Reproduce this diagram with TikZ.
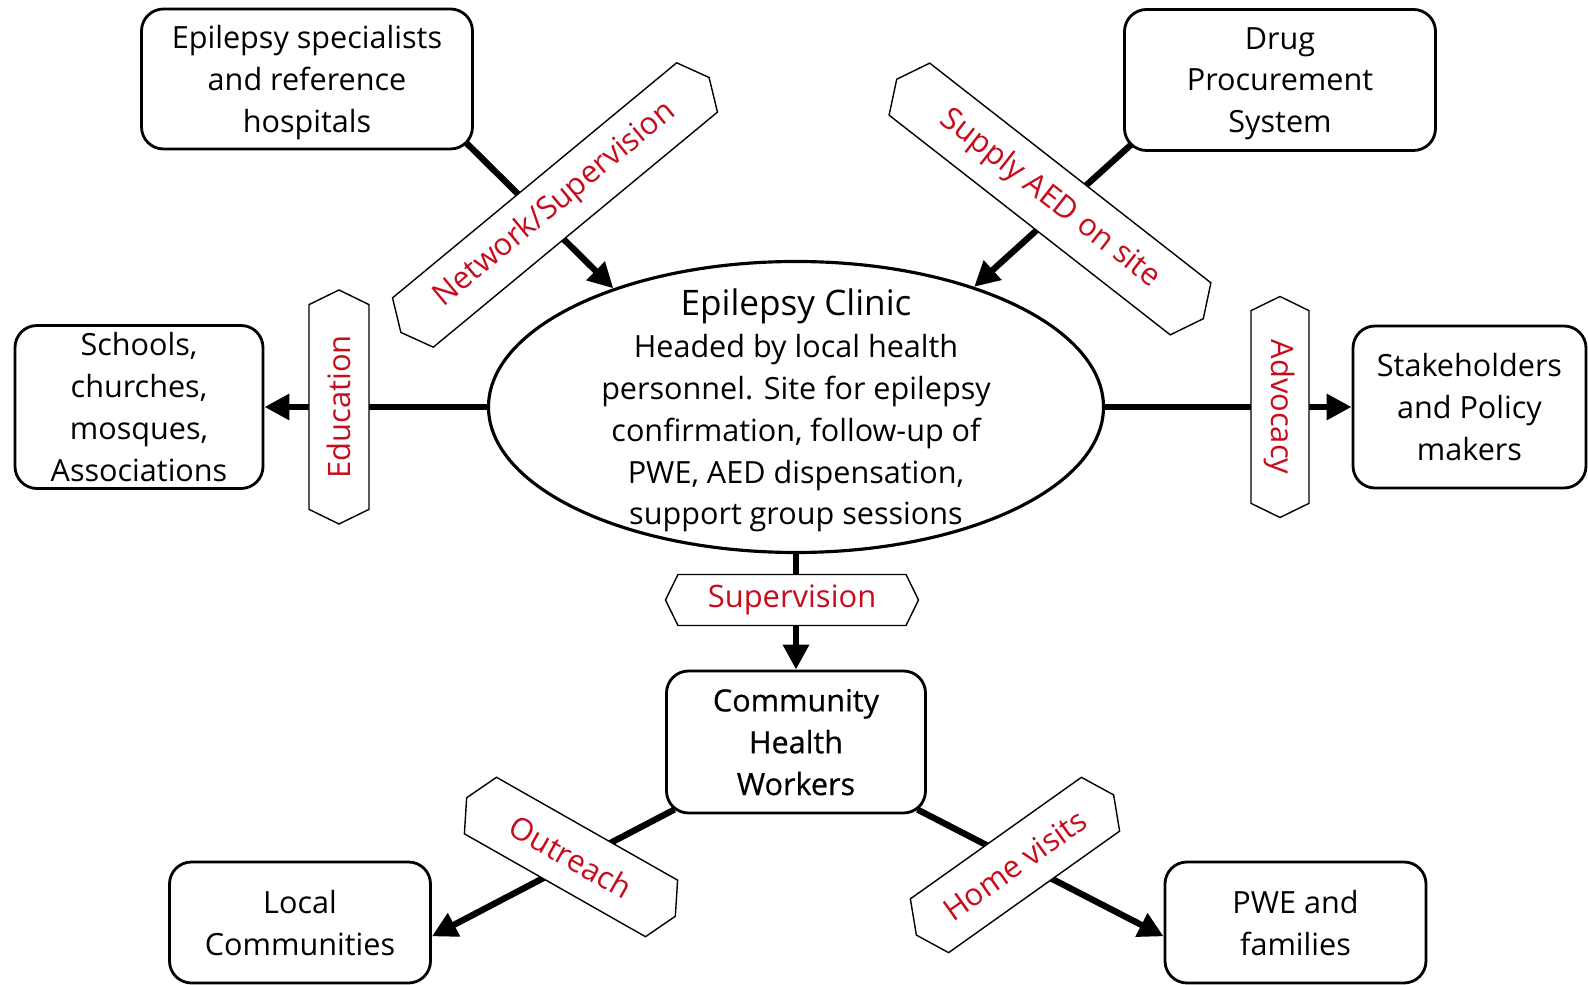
\documentclass[tikz,border=0pt]{standalone}
\usepackage{fontspec}
\setmainfont{Open Sans}
\newfontfamily\chwfont{Open Sans}[FakeBold=0.6]
\usetikzlibrary{shapes, arrows.meta, backgrounds}
\definecolor{tagred}{RGB}{200,12,28}

\begin{document}
\begin{tikzpicture}[node distance=2.2cm]
        \tikzstyle{hub} = [ellipse, minimum width = 6.15cm, minimum height = 2.91cm, draw=black, line width=0.9pt, fill=white]
        \tikzstyle{box} = [rectangle, rounded corners=0.22cm, inner sep=0pt, text depth=0pt, text centered, align=center, draw=black, line width=0.8pt, fill=white, font=\fontsize{8.7}{11.9}\selectfont]
        \tikzstyle{tag} = [signal, signal to=east and west, signal pointer angle=128, inner sep=0pt, draw=black, line width=0.4pt, fill=white, text=tagred, font=\fontsize{8.8}{10}\selectfont]
        \tikzstyle{link} = [line width=1.8pt, -{Triangle[length=0.25cm, width=0.25cm]}]

        \useasboundingbox (-7.96,-5.78) rectangle (7.92,4.07);

        \node (clinic) [hub]{};
        \node (cliniclbl) [align=center, text depth=0pt, font=\fontsize{8.7}{11.9}\selectfont] at (clinic) {{\fontsize{10}{12}\selectfont Epilepsy Clinic}\\ Headed by local health\\ personnel. Site for epilepsy\\ confirmation, follow-up of\\ PWE, AED dispensation,\\ support group sessions};
        \node (spec) [box, left of=clinic, xshift=-2.69cm, yshift=3.28cm, minimum width=3.31cm, minimum height=1.40cm]{Epilepsy specialists\\ and reference\\ hospitals};
        \node (drug) [box, right of=clinic, xshift=2.64cm, yshift=3.27cm, minimum width=3.11cm, minimum height=1.41cm]{Drug\\ Procurement\\ System};
        \node (schools) [box, left of=clinic, xshift=-4.37cm, minimum width=2.48cm, minimum height=1.63cm]{Schools,\\ churches,\\ mosques,\\ Associations};
        \node (stake) [box, right of=clinic, xshift=4.535cm, minimum width=2.33cm, minimum height=1.62cm]{Stakeholders\\ and Policy\\ makers};
        \node (chw) [box, below of=clinic, yshift=-1.15cm, minimum width=2.59cm, minimum height=1.42cm]{\chwfont Community\\ \chwfont Health\\ \chwfont Workers};
        \node (local) [box, left of=chw, xshift=-2.76cm, yshift=-1.805cm, minimum width=2.61cm, minimum height=1.21cm]{Local\\ Communities};
        \node (pwe) [box, right of=chw, xshift=2.795cm, yshift=-1.805cm, minimum width=2.61cm, minimum height=1.21cm]{PWE and\\ families};

        \begin{pgfonlayer}{background}
        \draw[link, shorten <=-3pt] (spec.south east) -- (clinic.147);
        \draw[link, shorten <=-3pt] (drug.south west) -- (clinic.34);
        \draw[link] (clinic.west) -- (schools.east);
        \draw[link] (clinic.east) -- (stake.west);
        \draw[link] (clinic.south) -- (chw.north);
        \draw[link, shorten <=-3pt] (chw.south west) -- (local.-6);
        \draw[link, shorten <=-3pt] (chw.south east) -- (pwe.186);
        \end{pgfonlayer}

        \node (netlab) [tag, left of=clinic, xshift=-0.21cm, yshift=2.02cm, minimum width=4.0cm, minimum height=0.64cm, rotate=39.6]{Network/Supervision};
        \node (supplab) [tag, right of=clinic, xshift=0.34cm, yshift=2.08cm, minimum width=3.89cm, minimum height=0.66cm, rotate=-38]{Supply AED on site};
        \node (edulab) [tag, left of=clinic, xshift=-2.37cm, minimum width=2.34cm, minimum height=0.60cm, rotate=90]{Education};
        \node (advlab) [tag, right of=clinic, xshift=2.64cm, minimum width=2.21cm, minimum height=0.58cm, rotate=-90]{Advocacy};
        \node (suplab) [tag, below of=clinic, xshift=-0.04cm, yshift=0.27cm, minimum width=2.53cm, minimum height=0.51cm]{Supervision};
        \node (outlab) [tag, left of=chw, xshift=-0.05cm, yshift=-1.15cm, minimum width=2.4cm, minimum height=0.65cm, rotate=-29.6]{Outreach};
        \node (homelab) [tag, right of=chw, xshift=-0.01cm, yshift=-1.23cm, minimum width=2.42cm, minimum height=0.66cm, rotate=35.4]{Home visits};

    \end{tikzpicture}
\end{document}
